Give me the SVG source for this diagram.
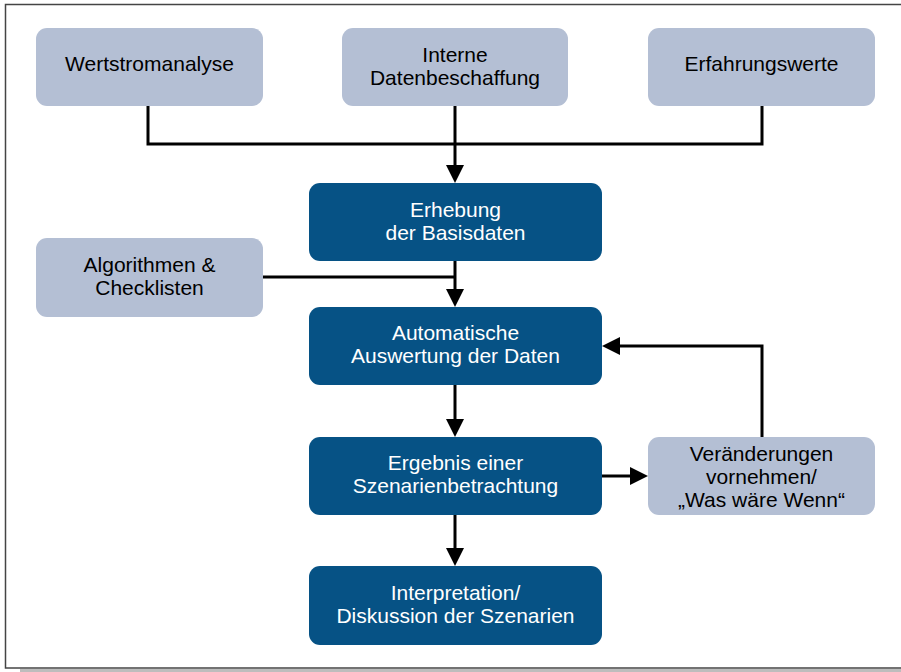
<svg xmlns="http://www.w3.org/2000/svg" width="901" height="672" viewBox="0 0 901 672">
<style>
.light{fill:#B4BFD4}
.dark{fill:#065285}
.tl{font-family:"Liberation Sans",Arial,sans-serif;font-size:21px;fill:#000;text-anchor:middle}
.td{font-family:"Liberation Sans",Arial,sans-serif;font-size:21px;fill:#fff;text-anchor:middle}
.c{fill:none;stroke:#000;stroke-width:3}
</style>
<defs>
<marker id="arr" markerUnits="userSpaceOnUse" markerWidth="18" markerHeight="18" refX="10" refY="9" orient="auto">
<path d="M0,0 L18,9 L0,18 z" fill="#000"/>
</marker>
</defs>
<rect x="0" y="0" width="901" height="672" fill="#fff"/>
<rect x="20" y="669" width="881" height="3" fill="#bdbdbd"/>
<rect x="5.5" y="4.5" width="900" height="663.5" fill="#fff" stroke="#444" stroke-width="1.5"/>
<g id="connectors">
<path class="c" d="M148,106 V144 H762 V106"/>
<path class="c" d="M455,106 V175" marker-end="url(#arr)"/>
<path class="c" d="M263,277 H455"/>
<path class="c" d="M455,261 V299" marker-end="url(#arr)"/>
<path class="c" d="M455,385 V429" marker-end="url(#arr)"/>
<path class="c" d="M602,476 H640" marker-end="url(#arr)"/>
<path class="c" d="M762,437 V346 H610" marker-end="url(#arr)"/>
<path class="c" d="M455,515 V558" marker-end="url(#arr)"/>
</g>
<g id="wertstromanalyse">
<rect class="light" x="36" y="28" width="227" height="78" rx="11"/>
<text class="tl" x="149.5" y="71">Wertstromanalyse</text>
</g>
<g id="interne">
<rect class="light" x="342" y="28" width="226" height="78" rx="11"/>
<text class="tl" x="455" y="61.5">Interne</text>
<text class="tl" x="455" y="84.5">Datenbeschaffung</text>
</g>
<g id="erfahrungswerte">
<rect class="light" x="648" y="28" width="227" height="78" rx="11"/>
<text class="tl" x="761.5" y="71">Erfahrungswerte</text>
</g>
<g id="erhebung">
<rect class="dark" x="309" y="183" width="293" height="78" rx="11"/>
<text class="td" x="455.5" y="216.5">Erhebung</text>
<text class="td" x="455.5" y="239.5">der Basisdaten</text>
</g>
<g id="algorithmen">
<rect class="light" x="36" y="238" width="227" height="79" rx="11"/>
<text class="tl" x="149.5" y="272">Algorithmen &amp;</text>
<text class="tl" x="149.5" y="295">Checklisten</text>
</g>
<g id="automatische">
<rect class="dark" x="309" y="307" width="293" height="78" rx="11"/>
<text class="td" x="455.5" y="340">Automatische</text>
<text class="td" x="455.5" y="363">Auswertung der Daten</text>
</g>
<g id="ergebnis">
<rect class="dark" x="309" y="437" width="293" height="78" rx="11"/>
<text class="td" x="455.5" y="470">Ergebnis einer</text>
<text class="td" x="455.5" y="493">Szenarienbetrachtung</text>
</g>
<g id="veraenderungen">
<rect class="light" x="648" y="437" width="227" height="78" rx="11"/>
<text class="tl" x="761.5" y="461">Veränderungen</text>
<text class="tl" x="761.5" y="484">vornehmen/</text>
<text class="tl" x="761.5" y="506.5">„Was wäre Wenn“</text>
</g>
<g id="interpretation">
<rect class="dark" x="309" y="566" width="293" height="79" rx="11"/>
<text class="td" x="455.5" y="599.5">Interpretation/</text>
<text class="td" x="455.5" y="622.5">Diskussion der Szenarien</text>
</g>
</svg>
